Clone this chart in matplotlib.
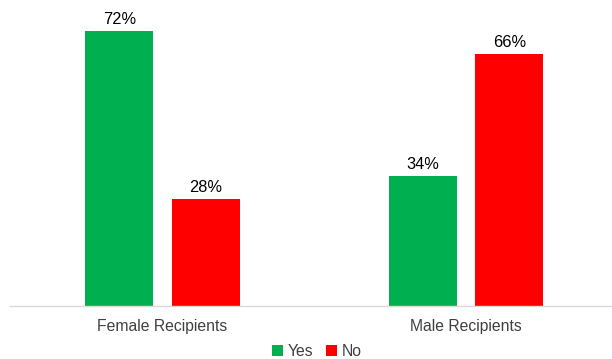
import matplotlib.pyplot as plt
import numpy as np

categories = ["Female Recipients", "Male Recipients"]
yes_vals = [0.72, 0.34]
no_vals = [0.28, 0.66]

fig = plt.figure(figsize=(6.12, 3.59), dpi=100)
ax = fig.add_axes([10 / 612, 1 - 306 / 359, 602 / 612, 305.6 / 359])

x = np.arange(len(categories))
w = 0.224
off = 0.143
b1 = ax.bar(x - off, yes_vals, w, color="#00B050", label="Yes")
b2 = ax.bar(x + off, no_vals, w, color="#FF0000", label="No")

for bars in (b1, b2):
    for r in bars:
        ax.text(r.get_x() + r.get_width() / 2, r.get_height() + 0.01,
                f"{r.get_height():.0%}", ha="center", va="bottom",
                fontsize=11.8, color="#000000", family="Liberation Sans")

ax.set_xlim(-0.503, 1.481)
ax.set_ylim(0, 0.8)
ax.set_yticks([])
ax.set_xticks(x)
ax.set_xticklabels(categories, fontsize=11.3, color="#404040", family="Liberation Sans")
ax.tick_params(axis="x", length=0, pad=9.5)
for s in ["top", "right", "left"]:
    ax.spines[s].set_visible(False)
ax.spines["bottom"].set_color("#D9D9D9")
ax.spines["bottom"].set_linewidth(1)

fig.legend(handles=[b1, b2], loc="center", bbox_to_anchor=(317 / 612, 1 - 351 / 359),
           ncol=2, frameon=False, handlelength=0.7, handleheight=0.7,
           handletextpad=0.3, columnspacing=0.8,
           prop={"family": "Liberation Sans", "size": 11.3}, labelcolor="#404040")

fig.savefig("out.png", dpi=100)
